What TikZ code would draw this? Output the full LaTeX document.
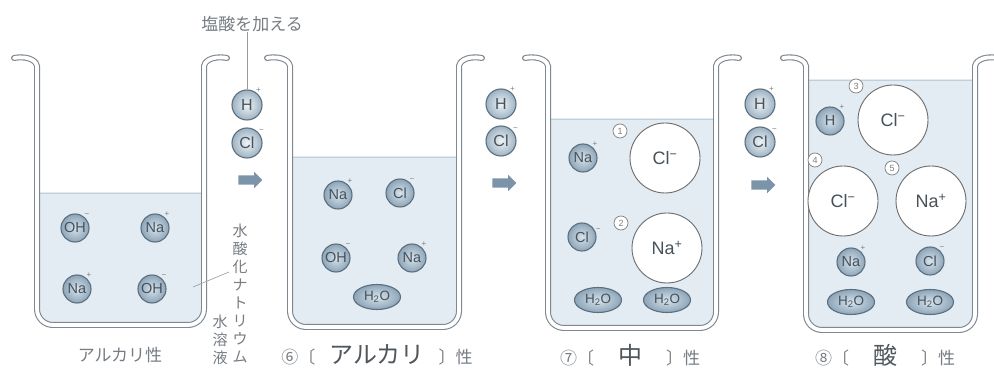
\documentclass[tikz,border=0pt]{standalone}
\usepackage{fontspec}
\setmainfont{Liberation Sans}
\newfontfamily\jp{Noto Sans CJK JP}
\usetikzlibrary{shapes.arrows,shapes.geometric}

\definecolor{wallgray}{HTML}{7F8891}
\definecolor{liquid}{HTML}{E3ECF2}
\definecolor{liquidline}{HTML}{BFCFDB}
\definecolor{ionedge}{HTML}{5C6F7F}
\definecolor{ioninner}{HTML}{D6E3EC}
\definecolor{ionouter}{HTML}{8DA5B8}
\definecolor{inktext}{HTML}{47515A}
\definecolor{arrowblue}{HTML}{7C94A9}
\definecolor{labelgray}{HTML}{777D83}
\definecolor{answer}{HTML}{50565C}

\tikzset{
  tube/.style={draw=wallgray, double=white, double distance=3.8pt, line width=1.1pt, line cap=round, rounded corners=16pt},
  ion/.style={circle, draw=ionedge, line width=1.1pt, inner color=ioninner, outer color=ionouter,
    minimum size=28pt, inner sep=0pt, font=\fontsize{14.5}{14.5}\selectfont, text=inktext},
  gapion/.style={ion, minimum size=30pt, inner color=white!60!ioninner, outer color=ionouter!85!white,
    font=\fontsize{16}{16}\selectfont},
  water/.style={ellipse, draw=ionedge, line width=1.1pt, inner color=ioninner, outer color=ionouter,
    minimum width=47pt, minimum height=25pt, inner sep=0pt, font=\fontsize{13.5}{13.5}\selectfont, text=inktext},
  bigion/.style={circle, draw=gray!85!black, line width=0.9pt, fill=white, minimum size=70pt,
    inner sep=0pt, font=\fontsize{18}{18}\selectfont, text=inktext},
  charge/.style={font=\fontsize{8}{8}\selectfont, text=gray, inner sep=0pt, label distance=0pt},
  numtag/.style={circle, draw=gray, fill=white, line width=0.7pt, minimum size=14pt, inner sep=0pt,
    font=\fontsize{9}{9}\selectfont, text=gray},
  addarrow/.style={single arrow, fill=arrowblue, draw=none, inner sep=4.5pt,
    single arrow head extend=3.5pt, minimum height=24pt},
  jplabel/.style={font=\jp\fontsize{17}{17}\selectfont, text=labelgray, inner sep=0pt},
  vtext/.style={font=\jp\fontsize{15}{18}\selectfont, text=labelgray, align=center, inner sep=0pt},
  leader/.style={draw=gray!80, line width=0.6pt}
}

% beaker outline: left wall x, right wall x, bottom y
\newcommand\drawbeaker[3]{%
  \draw[tube] (#1-23,58) .. controls (#1-6,55) and (#1,63) .. (#1,82)
    -- (#1,#3) -- (#2,#3) -- (#2,82) .. controls (#2,63) and (#2+6,55) .. (#2+23,58);
}
% solution inside a beaker: left x, right x, surface y, bottom y
\newcommand\drawliquid[4]{%
  \begin{scope}
    \clip (#1-5,#3) rectangle (#2+5,#4+10);
    \fill[liquid, rounded corners=16pt] (#1,#3-40) -- (#1,#4) -- (#2,#4) -- (#2,#3-40) -- cycle;
  \end{scope}
  \draw[liquidline, line width=0.8pt] (#1,#3) -- (#2,#3);
}

\begin{document}
\begin{tikzpicture}[x=1pt, y=-1pt]
\useasboundingbox (0,0) rectangle (994,371);
\fill[white] (0,0) rectangle (994,371);

% solutions
\drawliquid{37}{204}{193}{325}
\drawliquid{290}{459}{157}{327}
\drawliquid{548}{716}{119}{328}
\drawliquid{806}{975}{80}{330}

% beakers
\drawbeaker{37}{204}{325}
\drawbeaker{290}{459}{327}
\drawbeaker{548}{716}{328}
\drawbeaker{806}{975}{330}

% beaker 1: sodium hydroxide solution
\node[ion, label={[charge]50:−}] (b1oh1) at (75,228) {OH};
\node[ion, label={[charge]50:+}] (b1na1) at (155,228) {Na};
\node[ion, label={[charge]50:+}] (b1na2) at (77,289) {Na};
\node[ion, label={[charge]50:−}] (b1oh2) at (152,289) {OH};

% hydrochloric acid added between beakers
\node[jplabel] (addlabel) at (252,24) {塩酸を加える};
\node[gapion, label={[charge]55:+}] (g1h) at (247,105) {H};
\node[gapion, label={[charge]40:−}] (g1cl) at (247,143) {Cl};
\node[addarrow] (g1arrow) at (248,180) {};
\draw[leader] (g1h.north) -- (g1h.north |- addlabel.south);

\node[gapion, label={[charge]55:+}] (g2h) at (501,104) {H};
\node[gapion, label={[charge]40:−}] (g2cl) at (501,141) {Cl};
\node[addarrow] (g2arrow) at (502,183) {};

\node[gapion, label={[charge]55:+}] (g3h) at (760,104) {H};
\node[gapion, label={[charge]40:−}] (g3cl) at (760,142) {Cl};
\node[addarrow] (g3arrow) at (761,185) {};

% label of the first solution
\node[vtext] (naohA) at (240,293) {水\\酸\\化\\ナ\\ト\\リ\\ウ\\ム};
\node[vtext] (naohB) at (220,340) {水\\溶\\液};
\coordinate (naohpt) at (193,287);
\coordinate (naohend) at (229,272);
\draw[leader] (naohpt) -- (naohend);

% beaker 2
\node[ion, label={[charge]50:+}] (b2na1) at (338,195) {Na};
\node[ion, label={[charge]50:−}] (b2cl1) at (400,193) {Cl};
\node[ion, label={[charge]50:−}] (b2oh1) at (336,258) {OH};
\node[ion, label={[charge]50:+}] (b2na2) at (412,258) {Na};
\node[water] (b2w1) at (377,297) {H\textsubscript{2}O};

% beaker 3
\node[ion, label={[charge]50:+}] (b3na1) at (583,158) {Na};
\node[bigion] (b3bcl) at (665,158) {Cl\textsuperscript{−}};
\node[numtag] (t1) at (620,131) {1};
\node[ion, label={[charge]20:−}] (b3cl1) at (582,237) {Cl};
\node[bigion] (b3bna) at (667,248) {Na\textsuperscript{+}};
\node[numtag] (t2) at (621,223) {2};
\node[water] (b3w1) at (598,300) {H\textsubscript{2}O};
\node[water] (b3w2) at (667,300) {H\textsubscript{2}O};

% beaker 4
\node[ion, label={[charge]50:+}] (b4h1) at (830,121) {H};
\node[bigion] (b4bcl1) at (893,120) {Cl\textsuperscript{−}};
\node[numtag] (t3) at (856,86) {3};
\node[bigion] (b4bcl2) at (843,201) {Cl\textsuperscript{−}};
\node[numtag] (t4) at (815,160) {4};
\node[bigion] (b4bna) at (931,201) {Na\textsuperscript{+}};
\node[numtag] (t5) at (892,168) {5};
\node[ion, label={[charge]50:+}] (b4na1) at (851,262) {Na};
\node[ion, label={[charge]50:−}] (b4cl1) at (930,261) {Cl};
\node[water] (b4w1) at (851,302) {H\textsubscript{2}O};
\node[water] (b4w2) at (930,302) {H\textsubscript{2}O};

% captions
\node[jplabel] (cap1) at (120,355) {アルカリ性};
\node[jplabel] (cap2) at (377,355) {⑥〔\hspace{14pt}{\fontsize{24}{24}\selectfont\color{answer}アルカリ}\hspace{14pt}〕性};
\node[jplabel] (cap3) at (630,355) {⑦〔\hspace{24pt}{\fontsize{24}{24}\selectfont\color{answer}中}\hspace{24pt}〕性};
\node[jplabel] (cap4) at (885,355) {⑧〔\hspace{24pt}{\fontsize{24}{24}\selectfont\color{answer}酸}\hspace{24pt}〕性};
\end{tikzpicture}
\end{document}
